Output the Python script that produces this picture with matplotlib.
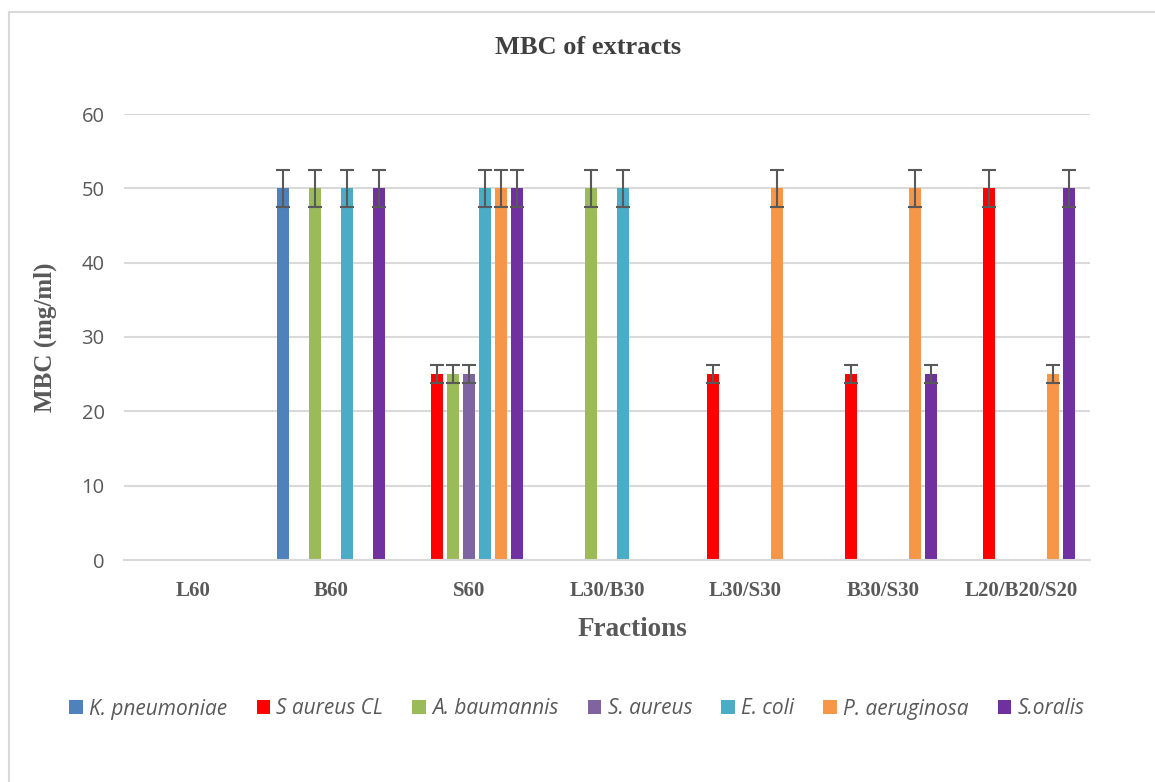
import numpy as np
import matplotlib
matplotlib.use('Agg')
import matplotlib.pyplot as plt
from matplotlib.lines import Line2D

fractions = ["L60", "B60", "S60", "L30/B30", "L30/S30", "B30/S30", "L20/B20/S20"]
species = ["K. pneumoniae", "S aureus CL", "A. baumannis", "S. aureus",
           "E. coli", "P. aeruginosa", "S.oralis"]
colors = ["#4F81BD", "#FF0000", "#9BBB59", "#8064A2", "#4BACC6", "#F79646", "#7030A0"]

nan = np.nan
# MBC (mg/ml) per species, one value per fraction (nan = no bar)
k_pneumoniae = [nan, 50, nan, nan, nan, nan, nan]
s_aureus_cl = [nan, nan, 25, nan, 25, 25, 50]
a_baumannis = [nan, 50, 25, 50, nan, nan, nan]
s_aureus = [nan, nan, 25, nan, nan, nan, nan]
e_coli = [nan, 50, 50, 50, nan, nan, nan]
p_aeruginosa = [nan, nan, 50, nan, 50, 50, 25]
s_oralis = [nan, 50, 50, nan, nan, 25, 50]
series = [k_pneumoniae, s_aureus_cl, a_baumannis, s_aureus, e_coli, p_aeruginosa, s_oralis]

err_frac = 0.05  # 5% error bars

text_col = "#595959"
grid_col = "#D9D9D9"
serif = "Liberation Serif"
sans = "Open Sans"

W, H = 1155, 782
fig = plt.figure(figsize=(W / 100, H / 100), dpi=100)
ax = fig.add_axes([124 / W, 1 - 560 / H, (1090 - 124) / W, (560 - 114) / H])

x = np.arange(len(fractions))
slot = 0.116
bw = 0.093
for i, (vals, name, c) in enumerate(zip(series, species, colors)):
    vals = np.array(vals, dtype=float)
    pos = x + (i - 3) * slot
    ax.bar(pos, vals, width=bw, color=c, label=name, zorder=2)
    ax.errorbar(pos, vals, yerr=vals * err_frac, fmt='none', ecolor=text_col,
                elinewidth=1.5, capsize=4.8, capthick=1.5, zorder=3)

ax.set_xlim(-0.5, len(fractions) - 0.5)
ax.set_ylim(0, 60)
ax.set_yticks(range(0, 61, 10))
ax.yaxis.grid(True, color=grid_col, linewidth=1.5, zorder=0)
ax.set_axisbelow(True)
for s in ["top", "right", "left"]:
    ax.spines[s].set_visible(False)
ax.spines["bottom"].set_color(grid_col)
ax.spines["bottom"].set_linewidth(1.5)
ax.tick_params(axis='both', length=0)
ax.tick_params(axis='y', pad=14, labelcolor=text_col)
ax.tick_params(axis='x', pad=15, labelcolor=text_col)
ax.set_xticks(x)
ax.set_xticklabels(fractions, fontfamily=serif, fontweight='bold', fontsize=15)
for lab in ax.get_yticklabels():
    lab.set_fontfamily(sans)
    lab.set_fontsize(14.5)

fig.text(588 / W, 1 - 48 / H, "MBC of extracts", ha='center', va='center',
         fontfamily=serif, fontweight='bold', fontsize=19, color="#404040")
fig.text(632 / W, 1 - 630 / H, "Fractions", ha='center', va='center',
         fontfamily=serif, fontweight='bold', fontsize=19.5, color=text_col)
fig.text(45 / W, 1 - 337 / H, "MBC (mg/ml)", ha='center', va='center', rotation=90,
         fontfamily=serif, fontweight='bold', fontsize=18, color=text_col)

handles, labels = ax.get_legend_handles_labels()
leg = fig.legend(handles, labels, loc='center', bbox_to_anchor=(577 / W, 1 - 709 / H),
                 ncol=7, frameon=False, handlelength=0.65, handleheight=0.65,
                 handletextpad=0.3, columnspacing=1.4,
                 prop={'family': sans, 'style': 'italic', 'size': 15})
for t in leg.get_texts():
    t.set_color(text_col)

# outer chart border (top and left edges visible)
fig.add_artist(Line2D([9 / W, 1], [1 - 12 / H, 1 - 12 / H], color=grid_col, lw=1.5))
fig.add_artist(Line2D([9 / W, 9 / W], [0, 1 - 12 / H], color=grid_col, lw=1.5))

fig.savefig("out.png", dpi=100)
